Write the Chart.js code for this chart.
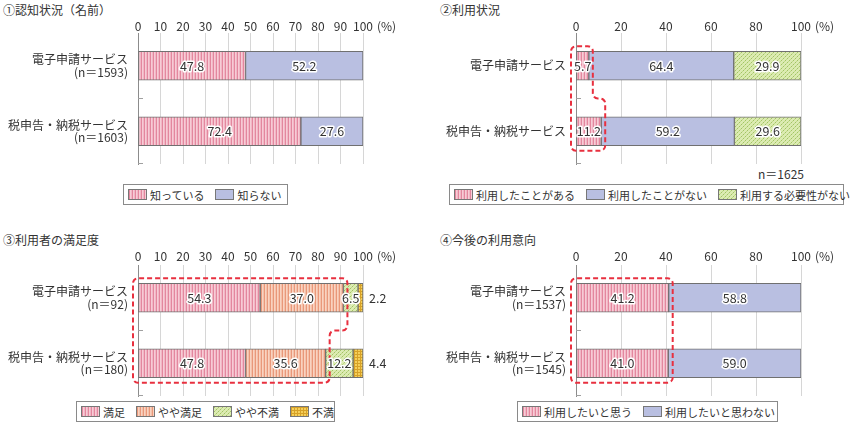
<!DOCTYPE html>
<html>
<head>
<meta charset="utf-8">
<script src="https://cdn.jsdelivr.net/npm/chart.js@4.4.0/dist/chart.umd.min.js"></script>
<style>
  body{margin:0;background:#fff;width:850px;height:426px;position:relative;overflow:hidden;font-family:"Noto Sans CJK JP",sans-serif;color:#333}
  .t{position:absolute;font-size:12px;line-height:14px;white-space:nowrap}
  canvas.c{position:absolute}
  .lg{position:absolute;border:1px solid #8a8a8a;height:21px;display:flex;align-items:center;padding:0 4px;font-size:11px;box-sizing:border-box;white-space:nowrap}
  .lg .i{display:flex;align-items:center;margin-right:11px}
  .lg .i:last-child{margin-right:0}
  .lg canvas{border:1px solid #777;margin-right:3px;display:block}
</style>
</head>
<body>
<div class="t" style="left:3px;top:3px">①認知状況（名前）</div>
<div class="t" style="left:440px;top:3px">②利用状況</div>
<div class="t" style="left:3px;top:233px">③利用者の満足度</div>
<div class="t" style="left:440px;top:233px">④今後の利用意向</div>
<div class="t" style="left:758px;top:167px">n＝1625</div>

<canvas class="c" id="c1" width="425" height="152" style="left:0;top:16px"></canvas>
<canvas class="c" id="c2" width="425" height="152" style="left:425px;top:16px"></canvas>
<canvas class="c" id="c3" width="425" height="154" style="left:0;top:246px"></canvas>
<canvas class="c" id="c4" width="425" height="154" style="left:425px;top:246px"></canvas>

<div class="lg" id="lg1" style="left:123px;top:184px;width:165px"></div>
<div class="lg" id="lg2" style="left:449px;top:184px;width:395px"></div>
<div class="lg" id="lg3" style="left:76px;top:401px;width:259px"></div>
<div class="lg" id="lg4" style="left:517px;top:401px;width:261px"></div>

<script>
// ---- data ----
const awareCats = [['電子申請サービス', '(n＝1593)'], ['税申告・納税サービス', '(n＝1603)']];
const awareKnow = [47.8, 72.4];
const awareNot = [52.2, 27.6];

const useCats = ['電子申請サービス', '税申告・納税サービス'];
const useHave = [5.7, 11.2];
const useNever = [64.4, 59.2];
const useNoNeed = [29.9, 29.6];

const satCats = [['電子申請サービス', '(n＝92)'], ['税申告・納税サービス', '(n＝180)']];
const satGood = [54.3, 47.8];
const satFair = [37.0, 35.6];
const satPoor = [6.5, 12.2];
const satBad = [2.2, 4.4];

const intentCats = [['電子申請サービス', '(n＝1537)'], ['税申告・納税サービス', '(n＝1545)']];
const intentYes = [41.2, 41.0];
const intentNo = [58.8, 59.0];

const tickStep1 = 10, tickStep2 = 20, tickStep3 = 10, tickStep4 = 20;

const FONT = '"Noto Sans CJK JP", "Noto Sans", sans-serif';

// ---- fills ----
function makePattern(w, h, draw){
  const c = document.createElement('canvas');
  c.width = w; c.height = h;
  const g = c.getContext('2d');
  draw(g);
  return g.createPattern(c, 'repeat');
}
function px(g, x, y, col){ g.fillStyle = col; g.fillRect(x, y, 1, 1); }

const pinkFill = makePattern(3, 1, g => { px(g,0,0,'#e3879e'); px(g,1,0,'#f7ccd6'); px(g,2,0,'#f1b7c5'); });
const orangeFill = makePattern(3, 1, g => { px(g,0,0,'#e9987a'); px(g,1,0,'#f9d3c1'); px(g,2,0,'#f4c1aa'); });
const greenFill = makePattern(4, 4, g => {
  g.fillStyle = '#dcebb2'; g.fillRect(0,0,4,4);
  px(g,0,0,'#a3c465'); px(g,2,2,'#a3c465'); px(g,1,3,'#c0d98a'); px(g,3,1,'#c0d98a');
});
const yellowFill = makePattern(3, 3, g => {
  g.fillStyle = '#f5cf5a'; g.fillRect(0,0,3,3);
  g.fillStyle = '#d6a128'; g.fillRect(0,0,3,1); g.fillRect(0,0,1,3);
});
const blueFill = '#b9bfe1';

// ---- plugins ----
function roundPoly(ctx, pts, r){
  const n = pts.length;
  ctx.moveTo((pts[n-1][0] + pts[0][0]) / 2, (pts[n-1][1] + pts[0][1]) / 2);
  for (let i = 0; i < n; i++){
    const p = pts[i], q = pts[(i + 1) % n];
    ctx.arcTo(p[0], p[1], q[0], q[1], r);
  }
  ctx.closePath();
}

// red dashed outline around the first N segments of each bar
const highlight = {
  id: 'highlight',
  afterDatasetsDraw(chart, args, opts){
    if (!opts.count) return;
    const x = chart.scales.x, ctx = chart.ctx;
    const bars = chart.getDatasetMeta(0).data;
    const sums = bars.map((b, j) => {
      let s = 0;
      for (let i = 0; i < opts.count; i++) s += chart.data.datasets[i].data[j];
      return s;
    });
    let r0 = x.getPixelForValue(sums[0]) + 4;
    let r1 = x.getPixelForValue(sums[1]) + 4;
    if (Math.abs(r0 - r1) < 4) { r0 = r1 = Math.max(r0, r1); }
    const top = bars[0].y - bars[0].height / 2 - 5;
    const b1 = bars[0].y + bars[0].height / 2;
    const t2 = bars[1].y - bars[1].height / 2;
    const bottom = bars[1].y + bars[1].height / 2 + 5;
    const left = x.left - 5;
    const mid = (b1 + t2) / 2;
    const pts = r0 === r1
      ? [[left, top], [r0, top], [r0, bottom], [left, bottom]]
      : [[left, top], [r0, top], [r0, mid], [r1, mid], [r1, bottom], [left, bottom]];
    ctx.save();
    ctx.strokeStyle = '#e8303f';
    ctx.lineWidth = 2;
    ctx.setLineDash([5, 3]);
    ctx.beginPath();
    roundPoly(ctx, pts, 5);
    ctx.stroke();
    ctx.restore();
  }
};

const valueLabels = {
  id: 'valueLabels',
  afterDatasetsDraw(chart){
    const ctx = chart.ctx;
    ctx.save();
    ctx.font = '12.5px ' + FONT;
    ctx.textBaseline = 'middle';
    ctx.lineJoin = 'round';
    chart.data.datasets.forEach((ds, i) => {
      chart.getDatasetMeta(i).data.forEach((bar, j) => {
        const txt = ds.data[j].toFixed(1);
        if (ds.outside){
          ctx.textAlign = 'left';
          ctx.fillStyle = '#333';
          ctx.fillText(txt, chart.chartArea.right + 6, bar.y);
        } else {
          const cx = (bar.x + bar.base) / 2;
          ctx.textAlign = 'center';
          ctx.strokeStyle = '#fff';
          ctx.lineWidth = 3;
          ctx.strokeText(txt, cx, bar.y);
          ctx.fillStyle = '#333';
          ctx.fillText(txt, cx, bar.y);
        }
      });
    });
    ctx.restore();
  }
};

// stubs on the category axis + "(%)" unit after the last tick
const axisBits = {
  id: 'axisBits',
  afterDraw(chart){
    const ctx = chart.ctx, a = chart.chartArea, n = chart.data.labels.length;
    ctx.save();
    ctx.strokeStyle = '#a0a0a0';
    ctx.lineWidth = 1;
    for (let i = 1; i <= n; i++){
      const yb = Math.round(a.top + i * (a.bottom - a.top) / n) - 0.5;
      ctx.beginPath(); ctx.moveTo(a.left, yb); ctx.lineTo(a.left + 5, yb); ctx.stroke();
    }
    ctx.font = '12px ' + FONT;
    ctx.fillStyle = '#333';
    ctx.textBaseline = 'middle';
    ctx.textAlign = 'left';
    const ty = chart.scales.x.bottom - chart.options.scales.x.ticks.padding - 6;
    ctx.fillText('(%)', a.right + 14, ty);
    ctx.restore();
  }
};

// ---- charts ----
function buildChart(id, labels, sets, step, o){
  return new Chart(document.getElementById(id), {
    type: 'bar',
    data: {
      labels,
      datasets: sets.map(s => ({
        label: s.label, data: s.data, backgroundColor: s.fill,
        borderColor: '#707070', borderWidth: 1, borderSkipped: false,
        barThickness: 29, outside: !!s.outside
      }))
    },
    options: {
      indexAxis: 'y',
      responsive: false,
      animation: false,
      layout: { padding: { right: o.right, bottom: 4 } },
      plugins: {
        legend: { display: false },
        tooltip: { enabled: false },
        highlight: { count: o.hl || 0 }
      },
      scales: {
        x: {
          position: 'top', stacked: true, min: 0, max: 100,
          ticks: { stepSize: step, padding: o.tickPad, maxRotation: 0, minRotation: 0, autoSkip: false,
                   color: '#333', font: { size: 12, family: FONT, lineHeight: 1 } },
          grid: { drawTicks: false, color: c => c.index === 0 ? '#8c8c8c' : '#d6d6d6' },
          border: { display: false },
          afterFit: s => { s.height = o.axisH; s.paddingLeft = 0; s.paddingRight = 0; }
        },
        y: {
          stacked: true,
          ticks: { padding: 10, color: '#333', font: { size: 12, family: FONT, lineHeight: 1.05 } },
          grid: { display: false, drawTicks: false },
          border: { display: true, color: '#8c8c8c' },
          afterFit: s => { s.width = o.left; s.paddingTop = 0; s.paddingBottom = 0; }
        }
      }
    },
    plugins: [highlight, valueLabels, axisBits]
  });
}

const aware = [
  { label: '知っている', data: awareKnow, fill: pinkFill },
  { label: '知らない', data: awareNot, fill: blueFill }
];
const use = [
  { label: '利用したことがある', data: useHave, fill: pinkFill },
  { label: '利用したことがない', data: useNever, fill: blueFill },
  { label: '利用する必要性がない', data: useNoNeed, fill: greenFill }
];
const sat = [
  { label: '満足', data: satGood, fill: pinkFill },
  { label: 'やや満足', data: satFair, fill: orangeFill },
  { label: 'やや不満', data: satPoor, fill: greenFill },
  { label: '不満', data: satBad, fill: yellowFill, outside: true }
];
const intent = [
  { label: '利用したいと思う', data: intentYes, fill: pinkFill },
  { label: '利用したいと思わない', data: intentNo, fill: blueFill }
];

buildChart('c1', awareCats, aware, tickStep1, { left: 138, right: 62, axisH: 17, tickPad: 1 });
buildChart('c2', useCats, use, tickStep2, { left: 151, right: 49, axisH: 17, tickPad: 1, hl: 1 });
buildChart('c3', satCats, sat, tickStep3, { left: 138, right: 62, axisH: 19, tickPad: 3, hl: 2 });
buildChart('c4', intentCats, intent, tickStep4, { left: 151, right: 49, axisH: 19, tickPad: 3, hl: 1 });

// ---- html legends ----
function buildLegend(id, sets){
  const box = document.getElementById(id);
  sets.forEach(s => {
    const item = document.createElement('span');
    item.className = 'i';
    const sw = document.createElement('canvas');
    sw.width = 17; sw.height = 9;
    const g = sw.getContext('2d');
    g.fillStyle = s.fill;
    g.fillRect(0, 0, 17, 9);
    item.appendChild(sw);
    item.appendChild(document.createTextNode(s.label));
    box.appendChild(item);
  });
}
buildLegend('lg1', aware);
buildLegend('lg2', use);
buildLegend('lg3', sat);
buildLegend('lg4', intent);
</script>
</body>
</html>
